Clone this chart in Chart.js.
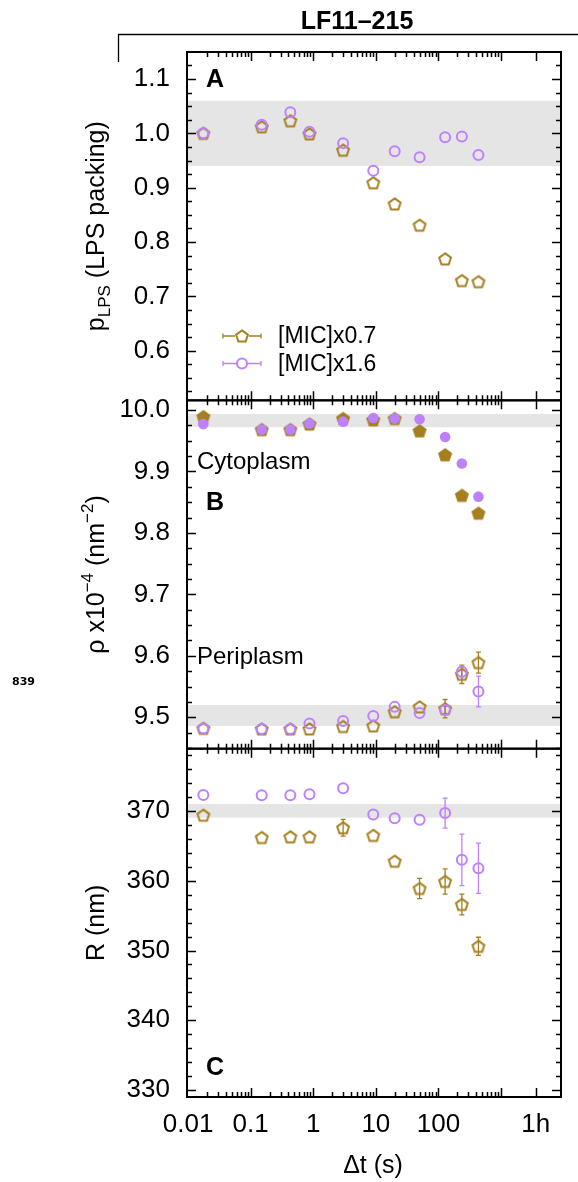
<!DOCTYPE html>
<html>
<head>
<meta charset="utf-8">
<script src="https://cdn.jsdelivr.net/npm/chart.js@4.4.1/dist/chart.umd.min.js"></script>
<style>
  html, body { margin: 0; padding: 0; background: #fff; }
  #wrap { width: 578px; height: 1182px; }
</style>
</head>
<body>
<div id="wrap"><canvas id="chart" width="578" height="1182"></canvas></div>
<script>
// time after addition (s)
const times = [0.0175, 0.15, 0.43, 0.87, 3.0, 9.1, 20, 50, 128, 237, 436];
const seriesNames = ['[MIC]x0.7', '[MIC]x1.6'];

// A: LPS packing
const packLow  = [1.000, 1.012, 1.023, 0.999, 0.969, 0.909, 0.870, 0.831, 0.769, 0.729, 0.727];
const packHigh = [1.000, 1.016, 1.039, 1.003, 0.982, 0.931, 0.967, 0.956, 0.993, 0.994, 0.960];

// B: density, cytoplasm (filled) and periplasm (open)
const cytoLow  = [9.989, 9.968, 9.968, 9.977, 9.986, 9.984, 9.986, 9.966, 9.927, 9.861, 9.832];
const cytoHigh = [9.977, 9.968, 9.968, 9.978, 9.981, 9.987, 9.986, 9.985, 9.956, 9.913, 9.859];
const periLow  = [9.482, 9.481, 9.481, 9.481, 9.485, 9.486, 9.509, 9.517, 9.514, 9.570, 9.589];
const periHigh = [9.482, 9.481, 9.481, 9.490, 9.494, 9.502, 9.517, 9.507, 9.512, 9.574, 9.542];
const periLowErr  = [0, 0, 0, 0, 0, 0, 0, 0, 0.015, 0.015, 0.017];
const periHighErr = [0, 0, 0, 0, 0, 0, 0, 0, 0.006, 0.008, 0.025];

// C: cell radius
const radLow  = [369.4, 366.2, 366.3, 366.3, 367.6, 366.5, 362.8, 358.9, 359.9, 356.6, 350.6];
const radHigh = [372.3, 372.25, 372.25, 372.4, 373.25, 369.5, 368.95, 368.75, 369.7, 363.0, 361.8];
const radLowErr  = [0, 0, 0, 0, 1.2, 0, 0, 1.45, 1.8, 1.5, 1.3];
const radHighErr = [0, 0, 0, 0, 0, 0, 0, 0, 2.15, 3.7, 3.6];

// grey reference bands
const bandPack = [0.94, 1.06];
const bandCyto = [9.972, 9.9935];
const bandPeri = [9.486, 9.52];
const bandRad  = [369.05, 371.0];

// ticks
const xTickValues = [0.01, 0.1, 1, 10, 100, 3600];
const xTickLabels = ['0.01', '0.1', '1', '10', '100', '1h'];
const packTicks = [0.6, 0.7, 0.8, 0.9, 1.0, 1.1];
const rhoTicks  = [9.5, 9.6, 9.7, 9.8, 9.9, 10.0];
const radTicks  = [330, 340, 350, 360, 370];

const gold = '#a67f1f';
const purple = '#bd80ff';
const FONT = "'Liberation Sans', Arial, Helvetica, sans-serif";

Chart.defaults.font.family = FONT;
Chart.defaults.color = '#000';

// pentagon marker, drawn once into a small canvas
function pentagon(color, filled) {
    const cv = document.createElement('canvas');
    cv.width = 18;
    cv.height = 18;
    const g = cv.getContext('2d');
    g.beginPath();
    for (let i = 0; i < 5; i++) {
        const a = -Math.PI / 2 + i * 2 * Math.PI / 5;
        const px = 9 + 6.2 * Math.cos(a);
        const py = 9.6 + 6.2 * Math.sin(a);
        if (i === 0) g.moveTo(px, py); else g.lineTo(px, py);
    }
    g.closePath();
    if (filled) {
        g.fillStyle = color;
        g.fill();
    }
    g.lineWidth = 2;
    g.strokeStyle = color;
    g.stroke();
    return cv;
}
const pentOpen = pentagon(gold, false);
const pentFull = pentagon(gold, true);

const pts = ys => times.map((t, i) => ({ x: t, y: ys[i] }));

function goldSet(ys, axis, style, errors) {
    return {
        label: seriesNames[0], data: pts(ys), yAxisID: axis,
        pointStyle: style, pointRadius: 6, borderColor: gold, backgroundColor: gold,
        errors: errors, errColor: gold, order: 1
    };
}
function purpleSet(ys, axis, filled, errors) {
    return {
        label: seriesNames[1], data: pts(ys), yAxisID: axis,
        pointStyle: 'circle', pointRadius: filled ? 5.3 : 5, pointBorderWidth: filled ? 0 : 2,
        borderColor: purple, backgroundColor: filled ? purple : 'rgba(255,255,255,0)',
        errors: errors, errColor: purple, order: 0
    };
}

function yAxis(min, max, ticks, digits, weight) {
    return {
        type: 'linear', position: 'left', stack: 'panels', stackWeight: 1, weight: weight,
        min: min, max: max,
        grid: { display: false, drawTicks: false },
        border: { display: false },
        ticks: { padding: 17, font: { size: 26 }, color: '#000', callback: v => v.toFixed(digits) },
        afterBuildTicks: s => { s.ticks = ticks.map(v => ({ value: v })); },
        afterFit: s => { s.width = 187; }
    };
}

function minorSteps(lo, hi, step) {
    const out = [];
    for (let v = Math.ceil(lo / step) * step; v <= hi + 1e-9; v += step) out.push(v);
    return out;
}

// frames, inward ticks, bands, error bars, labels
const decor = {
    id: 'decor',
    beforeDatasetsDraw(chart) {
        const c = chart.ctx;
        const x = chart.scales.x;
        const bands = [['yA', bandPack], ['yB', bandCyto], ['yB', bandPeri], ['yC', bandRad]];
        c.save();
        c.fillStyle = '#e5e5e5';
        bands.forEach(([id, b]) => {
            const y = chart.scales[id];
            const top = y.getPixelForValue(b[1]);
            const bot = y.getPixelForValue(b[0]);
            c.fillRect(x.left, top, x.right - x.left, bot - top);
        });
        // error bars under the markers
        chart.data.datasets.forEach((ds, i) => {
            if (!ds.errors) return;
            const meta = chart.getDatasetMeta(i);
            const ys = meta.yScale;
            c.strokeStyle = ds.errColor;
            c.lineWidth = 1.3;
            ds.data.forEach((p, j) => {
                const e = ds.errors[j];
                if (!e) return;
                const px = x.getPixelForValue(p.x);
                const t = ys.getPixelForValue(p.y + e);
                const b = ys.getPixelForValue(p.y - e);
                c.beginPath();
                c.moveTo(px, t); c.lineTo(px, b);
                c.moveTo(px - 2.5, t); c.lineTo(px + 2.5, t);
                c.moveTo(px - 2.5, b); c.lineTo(px + 2.5, b);
                c.stroke();
            });
        });
        c.restore();
    },
    afterDraw(chart) {
        const c = chart.ctx;
        const x = chart.scales.x;
        const panels = [
            [chart.scales.yA, 0.025],
            [chart.scales.yB, 0.025],
            [chart.scales.yC, 2]
        ];
        c.save();
        c.strokeStyle = '#000';
        c.lineWidth = 1.5;
        c.beginPath();
        panels.forEach(([y, step]) => {
            // y ticks on both sides
            minorSteps(y.min, y.max, step).forEach(v => {
                const major = y.ticks.some(t => Math.abs(t.value - v) < 1e-6);
                const len = major ? 9 : 5;
                const py = Math.round(y.getPixelForValue(v)) + 0.5;
                c.moveTo(x.left, py); c.lineTo(x.left + len, py);
                c.moveTo(x.right, py); c.lineTo(x.right - len, py);
            });
            // x ticks on top and bottom of each panel
            for (let d = -2; d <= 2; d++) {
                for (let m = 2; m <= 9; m++) {
                    const px = Math.round(x.getPixelForValue(m * Math.pow(10, d))) + 0.5;
                    c.moveTo(px, y.top); c.lineTo(px, y.top + 5);
                    c.moveTo(px, y.bottom); c.lineTo(px, y.bottom - 5);
                }
            }
            [0.1, 1, 10, 100, 1000, 3600].forEach(v => {
                const px = Math.round(x.getPixelForValue(v)) + 0.5;
                c.moveTo(px, y.top); c.lineTo(px, y.top + 9);
                c.moveTo(px, y.bottom); c.lineTo(px, y.bottom - 9);
            });
        });
        c.stroke();
        // panel frames
        c.lineWidth = 2;
        panels.forEach(([y]) => {
            c.strokeRect(x.left, y.top, x.right - x.left, y.bottom - y.top);
        });

        // title and bracket
        c.fillStyle = '#000';
        c.font = 'bold 25px ' + FONT;
        c.textAlign = 'center';
        c.textBaseline = 'middle';
        c.fillText('LF11\u2013215', 357, 22);
        c.lineWidth = 1.3;
        c.beginPath();
        c.moveTo(118.5, 62); c.lineTo(118.5, 34.5); c.lineTo(578, 34.5);
        c.stroke();

        c.font = "bold 11px 'DejaVu Sans', " + FONT;
        c.textAlign = 'left';
        c.fillText('839', 12, 682);

        // panel letters and region names
        const yA = chart.scales.yA, yB = chart.scales.yB, yC = chart.scales.yC;
        c.font = 'bold 25px ' + FONT;
        c.fillText('A', x.left + 19, yA.top + 28);
        c.fillText('B', x.left + 19, yB.top + 103);
        c.fillText('C', x.left + 19, yC.bottom - 29);
        c.font = '24px ' + FONT;
        c.fillText('Cytoplasm', x.left + 10, yB.top + 62);
        c.fillText('Periplasm', x.left + 10, yB.top + 257);

        // x title
        c.font = '25px ' + FONT;
        c.textAlign = 'center';
        c.fillText('\u0394t (s)', (x.left + x.right) / 2 - 1, 1166);

        // rotated y titles with sub/superscripts
        const yTitle = (parts, cy) => {
            c.save();
            c.translate(104, cy);
            c.rotate(-Math.PI / 2);
            c.textAlign = 'left';
            c.textBaseline = 'alphabetic';
            let w = 0;
            parts.forEach(p => { c.font = p[1] + 'px ' + FONT; w += c.measureText(p[0]).width; });
            let tx = -w / 2;
            parts.forEach(p => {
                c.font = p[1] + 'px ' + FONT;
                c.fillText(p[0], tx, p[2]);
                tx += c.measureText(p[0]).width;
            });
            c.restore();
        };
        yTitle([['p', 25, 0], ['LPS', 17, 6], [' (LPS packing)', 25, 0]], (yA.top + yA.bottom) / 2);
        yTitle([['\u03c1 x10', 25, 0], ['\u22124', 17, -11], [' (nm', 25, 0], ['\u22122', 17, -11], [')', 25, 0]], (yB.top + yB.bottom) / 2);
        yTitle([['R (nm)', 25, 0]], (yC.top + yC.bottom) / 2);

        // legend
        const rows = [[seriesNames[0], gold, 336], [seriesNames[1], purple, 363.5]];
        rows.forEach(([name, col, ly], k) => {
            c.strokeStyle = col;
            c.lineWidth = 1.3;
            c.beginPath();
            c.moveTo(223, ly); c.lineTo(261, ly);
            c.moveTo(223, ly - 2.5); c.lineTo(223, ly + 2.5);
            c.moveTo(261, ly - 2.5); c.lineTo(261, ly + 2.5);
            c.stroke();
            if (k === 0) {
                c.fillStyle = '#fff';
                c.fillRect(235, ly - 7, 14, 14);
                c.drawImage(pentOpen, 242 - 9, ly - 9);
            } else {
                c.fillStyle = '#fff';
                c.lineWidth = 2;
                c.beginPath();
                c.arc(242, ly, 5, 0, Math.PI * 2);
                c.fill();
                c.stroke();
            }
            c.fillStyle = '#000';
            c.font = '23px ' + FONT;
            c.textAlign = 'left';
            c.textBaseline = 'middle';
            c.fillText(name, 278, ly + 1);
        });
        c.restore();
    }
};

const chart = new Chart(document.getElementById('chart'), {
    type: 'scatter',
    data: {
        datasets: [
            purpleSet(packHigh, 'yA', false),
            goldSet(packLow, 'yA', pentOpen),
            purpleSet(cytoHigh, 'yB', true),
            goldSet(cytoLow, 'yB', pentFull),
            purpleSet(periHigh, 'yB', false, periHighErr),
            goldSet(periLow, 'yB', pentOpen, periLowErr),
            purpleSet(radHigh, 'yC', false, radHighErr),
            goldSet(radLow, 'yC', pentOpen, radLowErr)
        ]
    },
    options: {
        responsive: false,
        animation: false,
        layout: { padding: { top: 52, right: 17, left: 0, bottom: 0 } },
        plugins: { legend: { display: false }, tooltip: { enabled: false } },
        scales: {
            x: {
                type: 'logarithmic', position: 'bottom',
                min: 0.0096, max: 9100,
                grid: { display: false, drawTicks: false },
                border: { display: false },
                ticks: {
                    padding: 12, font: { size: 26 }, color: '#000',
                    autoSkip: false, maxRotation: 0,
                    callback: v => xTickLabels[xTickValues.indexOf(v)]
                },
                afterBuildTicks: s => { s.ticks = xTickValues.map(v => ({ value: v })); },
                afterFit: s => { s.height = 85; }
            },
            yA: yAxis(0.5087, 1.1497, packTicks, 1, 3),
            yB: yAxis(9.449, 10.0157, rhoTicks, 1, 2),
            yC: yAxis(329.0, 378.94, radTicks, 0, 1)
        }
    },
    plugins: [decor]
});
</script>
</body>
</html>
